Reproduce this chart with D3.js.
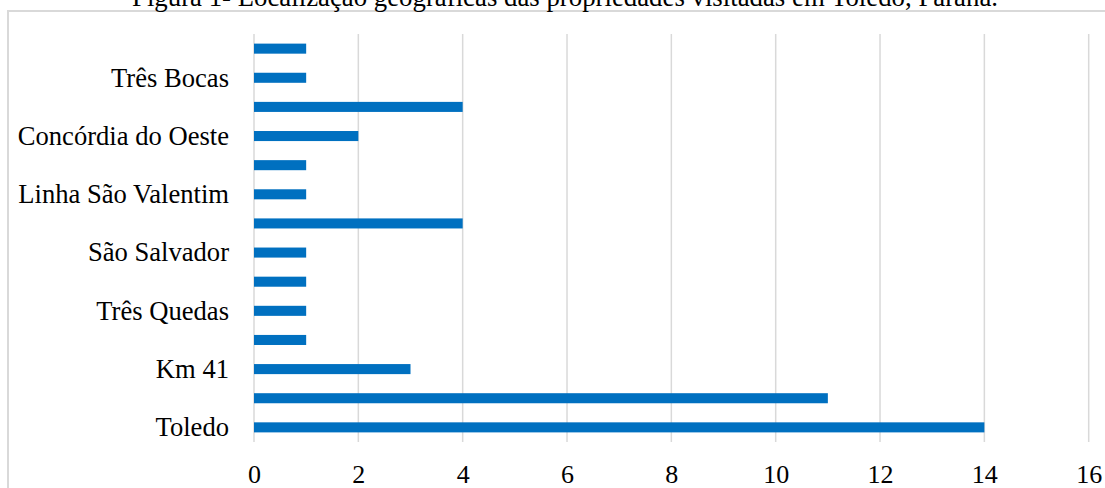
<!DOCTYPE html>
<html>
<head>
<meta charset="utf-8">
<script src="https://cdn.jsdelivr.net/npm/d3@7"></script>
<style>
  body { margin: 0; background: #fff; }
  text { font-family: "Liberation Serif", "Times New Roman", serif; fill: #000; }
</style>
</head>
<body>
<div id="chart"></div>
<script>
// Categories listed from the bottom bar upward (Excel order).
// Every second label is hidden in the original, so those names are unknown.
const categories = [
    "Toledo", "", "Km 41", "", "Três Quedas", "", "São Salvador", "",
    "Linha São Valentim", "", "Concórdia do Oeste", "", "Três Bocas", ""
];
const values = [14, 11, 3, 1, 1, 1, 1, 4, 1, 1, 2, 4, 1, 1];
const xTicks = [0, 2, 4, 6, 8, 10, 12, 14, 16];
const title = "Figura 1- Localização geográficas das propriedades visitadas em Toledo, Paraná.";

const width = 1105, height = 488;
const plot = {left: 254, right: 1088.7, top: 34, bottom: 442};

const svg = d3.select("#chart")
    .append("svg")
    .attr("width", width)
    .attr("height", height);

// chart area frame (runs off the right edge)
svg.append("rect")
    .attr("x", 8)
    .attr("y", 11)
    .attr("width", 1110)
    .attr("height", 500)
    .attr("fill", "none")
    .attr("stroke", "#d9d9d9")
    .attr("stroke-width", 2);

svg.append("text")
    .attr("x", 565)
    .attr("y", 6)
    .attr("text-anchor", "middle")
    .style("font-size", "26.8px")
    .text(title);

const x = d3.scaleLinear()
    .domain([0, 16])
    .range([plot.left, plot.right]);

const y = d3.scaleBand()
    .domain(d3.range(categories.length))
    .range([plot.bottom, plot.top])
    .paddingInner(0.655)
    .paddingOuter(0.33);

// gridlines
svg.append("g")
    .selectAll("line")
    .data(xTicks)
    .enter()
    .append("line")
    .attr("x1", d => x(d))
    .attr("x2", d => x(d))
    .attr("y1", plot.top)
    .attr("y2", plot.bottom)
    .attr("stroke", "#d9d9d9")
    .attr("stroke-width", 1.5);

// bars
svg.append("g")
    .selectAll("rect")
    .data(values)
    .enter()
    .append("rect")
    .attr("x", x(0))
    .attr("y", (d, i) => y(i))
    .attr("width", d => x(d) - x(0))
    .attr("height", y.bandwidth())
    .attr("fill", "#0070c0");

// x axis labels
const xAxis = svg.append("g")
    .attr("transform", `translate(0,${plot.bottom})`)
    .call(d3.axisBottom(x).tickValues(xTicks).tickSize(0).tickPadding(0));
xAxis.select(".domain").remove();
xAxis.selectAll("text")
    .attr("y", 41)
    .attr("dy", null)
    .style("font-size", "26px")
    .attr("fill", "#000");

// y axis labels
const yAxis = svg.append("g")
    .attr("transform", `translate(${plot.left},0)`)
    .call(d3.axisLeft(y).tickFormat(i => categories[i]).tickSize(0).tickPadding(25));
yAxis.select(".domain").remove();
yAxis.selectAll("text")
    .style("font-size", "26.6px")
    .attr("dy", "0.33em")
    .attr("fill", "#000");
</script>
</body>
</html>
